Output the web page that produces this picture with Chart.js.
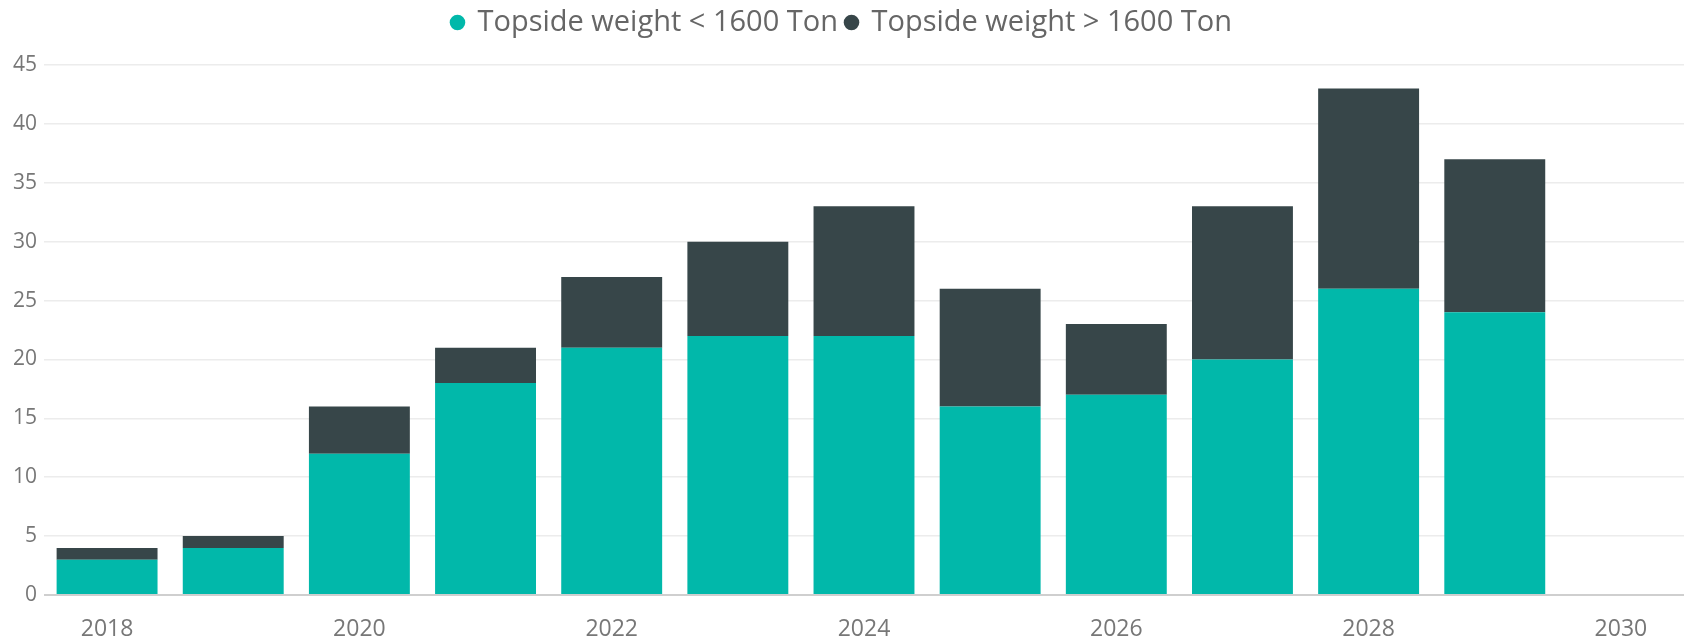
<!DOCTYPE html>
<html>
<head>
<meta charset="utf-8">
<script src="https://cdn.jsdelivr.net/npm/chart.js@4"></script>
<style>
  html, body { margin: 0; padding: 0; background: #fff; }
  #wrap { width: 1684px; height: 642px; }
</style>
</head>
<body>
<div id="wrap"><canvas id="chart" width="1684" height="642"></canvas></div>
<script>
// years on the x axis (2030 has no bars)
const years = ['2018', '2019', '2020', '2021', '2022', '2023', '2024', '2025', '2026', '2027', '2028', '2029', '2030'];
// topside weight < 1600 Ton
const lightTopsides = [3, 4, 12, 18, 21, 22, 22, 16, 17, 20, 26, 24, null];
// topside weight > 1600 Ton (stacked on top)
const heavyTopsides = [1, 1, 4, 3, 6, 8, 11, 10, 6, 13, 17, 13, null];
const yTicks = [0, 5, 10, 15, 20, 25, 30, 35, 40, 45];

const fontFamily = "'Segoe UI', 'Open Sans', 'Noto Sans', sans-serif";

// push the plot area down a bit below the legend
const legendGap = {
    id: 'legendGap',
    beforeInit(chart) {
        const fit = chart.legend.fit;
        chart.legend.fit = function() {
            fit.bind(chart.legend)();
            this.height += 18;
        };
    }
};

const ctx = document.getElementById('chart').getContext('2d');
new Chart(ctx, {
    type: 'bar',
    data: {
        labels: years,
        datasets: [
            {
                label: 'Topside weight < 1600 Ton',
                data: lightTopsides,
                backgroundColor: '#01B8AA',
                categoryPercentage: 0.8,
                barPercentage: 1.0
            },
            {
                label: 'Topside weight > 1600 Ton',
                data: heavyTopsides,
                backgroundColor: '#374649',
                categoryPercentage: 0.8,
                barPercentage: 1.0
            }
        ]
    },
    plugins: [legendGap],
    options: {
        responsive: false,
        animation: false,
        layout: { padding: { top: 0, right: 0, left: 0, bottom: 0 } },
        plugins: {
            legend: {
                position: 'top',
                labels: {
                    usePointStyle: true,
                    pointStyle: 'circle',
                    boxWidth: 11,
                    boxHeight: 11,
                    padding: 8,
                    color: '#666',
                    font: { size: 29, family: fontFamily }
                }
            },
            tooltip: { enabled: false }
        },
        scales: {
            x: {
                stacked: true,
                grid: { display: false },
                border: { display: false },
                ticks: {
                    autoSkip: false,
                    maxRotation: 0,
                    padding: 13,
                    color: '#777',
                    font: { size: 23, family: fontFamily },
                    callback: function(value, index) {
                        return index % 2 === 0 ? years[index] : '';
                    }
                },
                afterFit: function(scale) { scale.height = 47; }
            },
            y: {
                stacked: true,
                min: 0,
                max: 45,
                afterBuildTicks: function(scale) {
                    scale.ticks = yTicks.map(v => ({ value: v }));
                },
                grid: {
                    drawTicks: false,
                    lineWidth: function(c) { return c.tick && c.tick.value === 0 ? 2 : 1.5; },
                    color: function(c) { return c.tick && c.tick.value === 0 ? '#cfcfcf' : '#ececec'; }
                },
                border: { display: false },
                ticks: {
                    padding: 7,
                    color: '#777',
                    font: { size: 21, family: fontFamily }
                },
                afterFit: function(scale) { scale.width = 44; }
            }
        }
    }
});
</script>
</body>
</html>
